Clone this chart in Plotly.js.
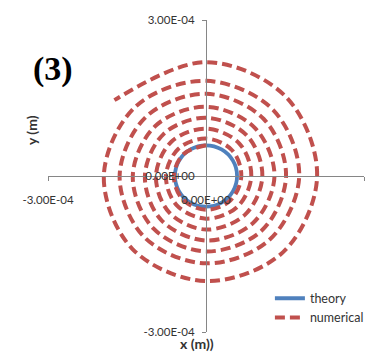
<!DOCTYPE html>
<html>
<head>
<meta charset="utf-8">
<script src="https://cdn.plot.ly/plotly-3.0.1.min.js"></script>
<style>html,body{margin:0;padding:0;background:#fff;}#chart{width:380px;height:352px;}</style>
</head>
<body>
<div id="chart"></div>
<script>
// Axis ticks
const tickVals = [-3e-4, 0, 3e-4];
const tickText = ['-3.00E-04', '0.00E+00', '3.00E-04'];

// Theory circle: angle (deg) and radius (in 1e-4 m)
const theoryAngle = [0, 30, 60, 90, 120, 150, 180, 210, 240, 270, 300, 330, 360];
const theoryR = [0.59, 0.59, 0.59, 0.59, 0.59, 0.59, 0.59, 0.59, 0.59, 0.59, 0.59, 0.59, 0.59];

// Numerical spiral: angle (deg, counterclockwise from +x) and radius (1e-4 m)
const numAngle = [90, 135, 180, 225, 270, 315, 360, 405, 450, 495, 540, 585, 630, 675, 720, 765,
  810, 855, 900, 945, 990, 1035, 1080, 1125, 1170, 1215, 1260, 1305, 1350, 1395, 1440, 1485,
  1530, 1575, 1620, 1665, 1710, 1755, 1800, 1845, 1890, 1935, 1980, 2025, 2070, 2115, 2160,
  2205, 2250, 2295, 2340, 2385, 2430, 2475, 2520, 2565, 2610, 2660];
const numR = [0.59, 0.60, 0.61, 0.63, 0.65, 0.66, 0.67, 0.70, 0.72, 0.74, 0.76, 0.79, 0.82, 0.84,
  0.86, 0.89, 0.91, 0.93, 0.95, 0.99, 1.03, 1.05, 1.07, 1.10, 1.12, 1.14, 1.16, 1.20, 1.24, 1.27,
  1.30, 1.31, 1.33, 1.36, 1.39, 1.42, 1.45, 1.49, 1.52, 1.55, 1.58, 1.61, 1.64, 1.66, 1.68, 1.72,
  1.77, 1.80, 1.83, 1.89, 1.94, 1.98, 2.02, 2.07, 2.11, 2.15, 2.19, 2.27];

function toXY(ang, r) {
  const x = [], y = [];
  for (let i = 0; i < ang.length; i++) {
    const t = ang[i] * Math.PI / 180;
    x.push(r[i] * 1e-4 * Math.cos(t));
    y.push(r[i] * 1e-4 * Math.sin(t));
  }
  return {x, y};
}
const th = toXY(theoryAngle, theoryR);
const nu = toXY(numAngle, numR);

const data = [
  {x: th.x, y: th.y, type: 'scatter', mode: 'lines', name: 'theory',
   line: {color: '#4F81BD', width: 3.8, shape: 'spline'}},
  {x: nu.x, y: nu.y, type: 'scatter', mode: 'lines', name: 'numerical',
   line: {color: '#C0504D', width: 4, shape: 'spline', dash: '10px,5px'}}
];

const axisCommon = {
  range: [-3e-4, 3e-4], anchor: 'free', position: 0.5,
  showline: true, linecolor: '#868686', linewidth: 1,
  ticks: 'outside', ticklen: 4, tickcolor: '#868686',
  tickmode: 'array', tickvals: tickVals, ticktext: tickText,
  showgrid: false, zeroline: false, automargin: false,
  tickfont: {family: 'Lato, sans-serif', size: 11.5, color: '#333'},
  fixedrange: true
};

const layout = {
  width: 380, height: 352,
  margin: {l: 48, r: 15, t: 20, b: 20},
  paper_bgcolor: '#fff', plot_bgcolor: '#fff',
  showlegend: true,
  legend: {x: 0.70, y: 0.155, xanchor: 'left', yanchor: 'top', bgcolor: 'rgba(0,0,0,0)',
           font: {family: 'Lato, sans-serif', size: 12.5, color: '#333'}, tracegroupgap: 0},
  xaxis: Object.assign({}, axisCommon, {ticklabelstandoff: 9}),
  yaxis: Object.assign({}, axisCommon, {ticklabelstandoff: 5}),
  annotations: [
    {text: '<b>(3)</b>', xref: 'paper', yref: 'paper', x: 0.016, y: 0.843, xanchor: 'center', yanchor: 'middle',
     showarrow: false, font: {family: 'Liberation Serif, serif', size: 34, color: '#000'}},
    {text: '<b>y (m)</b>', xref: 'paper', yref: 'paper', x: -0.054, y: 0.647, xanchor: 'center', yanchor: 'middle',
     textangle: -90, showarrow: false, font: {family: 'Lato, sans-serif', size: 14, color: '#333'}},
    {text: '<b>x (m))</b>', xref: 'paper', yref: 'paper', x: 0.47, y: -0.037, xanchor: 'center', yanchor: 'middle',
     showarrow: false, font: {family: 'Lato, sans-serif', size: 14, color: '#333'}}
  ]
};

Plotly.newPlot('chart', data, layout, {displayModeBar: false, staticPlot: true});
</script>
</body>
</html>
